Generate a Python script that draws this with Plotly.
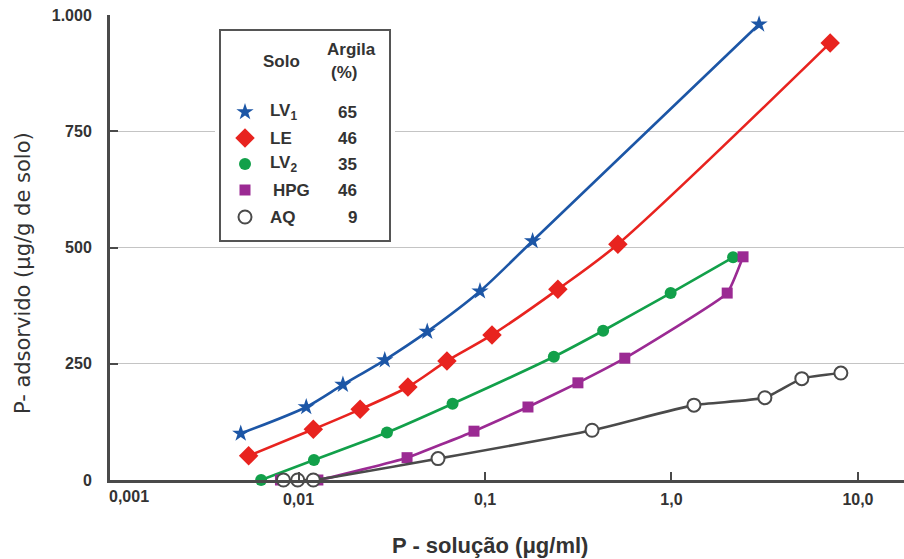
import plotly.graph_objects as go

# Phosphorus adsorption isotherms for five soils
lv1_x = [0.0049, 0.011, 0.0173, 0.029, 0.049, 0.094, 0.18, 2.95]
lv1_y = [100, 157, 205, 258, 319, 406, 514, 980]

le_x = [0.0054, 0.012, 0.0214, 0.0386, 0.0625, 0.109, 0.246, 0.516, 7.1]
le_y = [52, 109, 152, 200, 256, 312, 410, 507, 940]

lv2_x = [0.0063, 0.0121, 0.0298, 0.067, 0.234, 0.43, 0.99, 2.14]
lv2_y = [0, 43, 102, 164, 265, 321, 402, 479]

hpg_x = [0.0080, 0.0127, 0.0382, 0.0873, 0.170, 0.315, 0.562, 1.99, 2.42]
hpg_y = [0, 0, 48, 105, 157, 209, 262, 402, 480]

aq_x = [0.0083, 0.0099, 0.0120, 0.056, 0.375, 1.32, 3.17, 5.0, 8.1]
aq_y = [0, 0, 0, 46, 107, 161, 177, 218, 230]

solos = ["LV<sub>1</sub>", "LE", "LV<sub>2</sub>", "HPG", "AQ"]
argila = ["65", "46", "35", "46", "9"]

x_tickvals = [0.01, 0.1, 1, 10]
x_ticktext = ["0,01", "0,1", "1,0", "10,0"]
y_tickvals = [0, 250, 500, 750, 1000]
y_ticktext = ["0", "250", "500", "750", "1.000"]

FONT = "Liberation Sans, Arial, sans-serif"
AXIS = "#4a4a4a"
TXT = "#333333"

styles = [
    dict(color="#1c56a6", symbol="star", size=13, smooth=0.8),
    dict(color="#e8231f", symbol="diamond", size=15, smooth=0.8),
    dict(color="#12a04a", symbol="circle", size=12, smooth=0.7),
    dict(color="#9b2a93", symbol="square", size=11, smooth=0.35),
    dict(color="#4a4a4a", symbol="circle", size=13, smooth=0.5, hollow=True),
]
series = [(lv1_x, lv1_y), (le_x, le_y), (lv2_x, lv2_y), (hpg_x, hpg_y), (aq_x, aq_y)]


def marker_for(st):
    if st.get("hollow"):
        return dict(symbol="circle", size=st["size"], color="white",
                    line=dict(color=st["color"], width=2))
    return dict(symbol=st["symbol"], size=st["size"], color=st["color"],
                line=dict(width=0))


fig = go.Figure()
for (xs, ys), st in zip(series, styles):
    fig.add_trace(go.Scatter(
        x=xs, y=ys, mode="lines+markers",
        line=dict(color=st["color"], width=2.6, shape="spline", smoothing=st["smooth"]),
        marker=marker_for(st), cliponaxis=False, showlegend=False,
        xaxis="x", yaxis="y",
    ))

# Legend panel drawn on its own pixel-like axes
leg_rows = [112, 138, 164, 190, 217]
for row, st in zip(leg_rows, styles):
    fig.add_trace(go.Scatter(x=[245], y=[row], mode="markers", marker=marker_for(st),
                             showlegend=False, xaxis="x2", yaxis="y2",
                             hoverinfo="skip", cliponaxis=False))

fig.add_shape(type="rect", xref="x2", yref="y2", x0=220, x1=390, y0=30, y1=241,
              line=dict(color="#555555", width=2), fillcolor="white", layer="between")

ann = []
ann.append(dict(xref="x2", yref="y2", x=281, y=62, text="<b>Solo</b>", showarrow=False,
                font=dict(family=FONT, size=17, color=TXT)))
ann.append(dict(xref="x2", yref="y2", x=351, y=50, text="<b>Argila</b>", showarrow=False,
                font=dict(family=FONT, size=17, color=TXT)))
ann.append(dict(xref="x2", yref="y2", x=344, y=72, text="<b>(%)</b>", showarrow=False,
                font=dict(family=FONT, size=17, color=TXT)))
for row, name, val in zip(leg_rows, solos, argila):
    ann.append(dict(xref="x2", yref="y2", x=268 if name != "HPG" else 271, y=row,
                    xanchor="left", text="<b>" + name + "</b>", showarrow=False,
                    font=dict(family=FONT, size=17, color=TXT)))
    ann.append(dict(xref="x2", yref="y2", x=359, y=row, xanchor="right",
                    text="<b>" + val + "</b>", showarrow=False,
                    font=dict(family=FONT, size=17, color=TXT)))

# left-most decade label sits just right of the axis corner
ann.append(dict(xref="x", yref="paper", x=-3, y=0, yanchor="top", yshift=-6, xshift=17,
                text="<b>0,001</b>", showarrow=False,
                font=dict(family=FONT, size=16, color=TXT)))
# axis titles
ann.append(dict(xref="paper", yref="paper", x=0.478, y=0, yanchor="middle", yshift=-65,
                text="<b>P - solução (μg/ml)</b>", showarrow=False,
                font=dict(family=FONT, size=22, color=TXT)))
ann.append(dict(xref="paper", yref="paper", x=0, y=0.445, xanchor="center", yanchor="middle",
                xshift=-87, text="P- adsorvido (μg/g de solo)", textangle=-90, showarrow=False,
                font=dict(family="DejaVu Sans, sans-serif", size=21, color=TXT)))

fig.update_layout(
    width=904, height=559,
    margin=dict(l=110, r=0, t=15, b=79),
    paper_bgcolor="white", plot_bgcolor="white",
    annotations=ann,
    xaxis=dict(type="log", range=[-3.011, 1.247], tickvals=x_tickvals, ticktext=x_ticktext,
               showgrid=False, zeroline=False, showline=True, linecolor=AXIS, linewidth=3,
               ticks="inside", ticklen=8, tickwidth=2, tickcolor=AXIS,
               tickfont=dict(family=FONT, size=16, color=TXT, weight="bold"),
               ticklabelstandoff=3),
    yaxis=dict(range=[0, 1000], tickvals=y_tickvals, ticktext=y_ticktext,
               showgrid=True, gridcolor="#c4c4c4", gridwidth=1, zeroline=False,
               showline=True, linecolor=AXIS, linewidth=3,
               ticks="inside", ticklen=8, tickwidth=2, tickcolor=AXIS,
               tickfont=dict(family=FONT, size=16, color=TXT, weight="bold"),
               ticklabelstandoff=12),
    xaxis2=dict(domain=[(215 - 110) / 794, (395 - 110) / 794], range=[215, 395],
                anchor="y2", visible=False, showgrid=False, zeroline=False),
    yaxis2=dict(domain=[(480 - 246) / 465, (480 - 25) / 465], range=[246, 25],
                anchor="x2", visible=False, showgrid=False, zeroline=False),
)

fig.write_html("out.html")
